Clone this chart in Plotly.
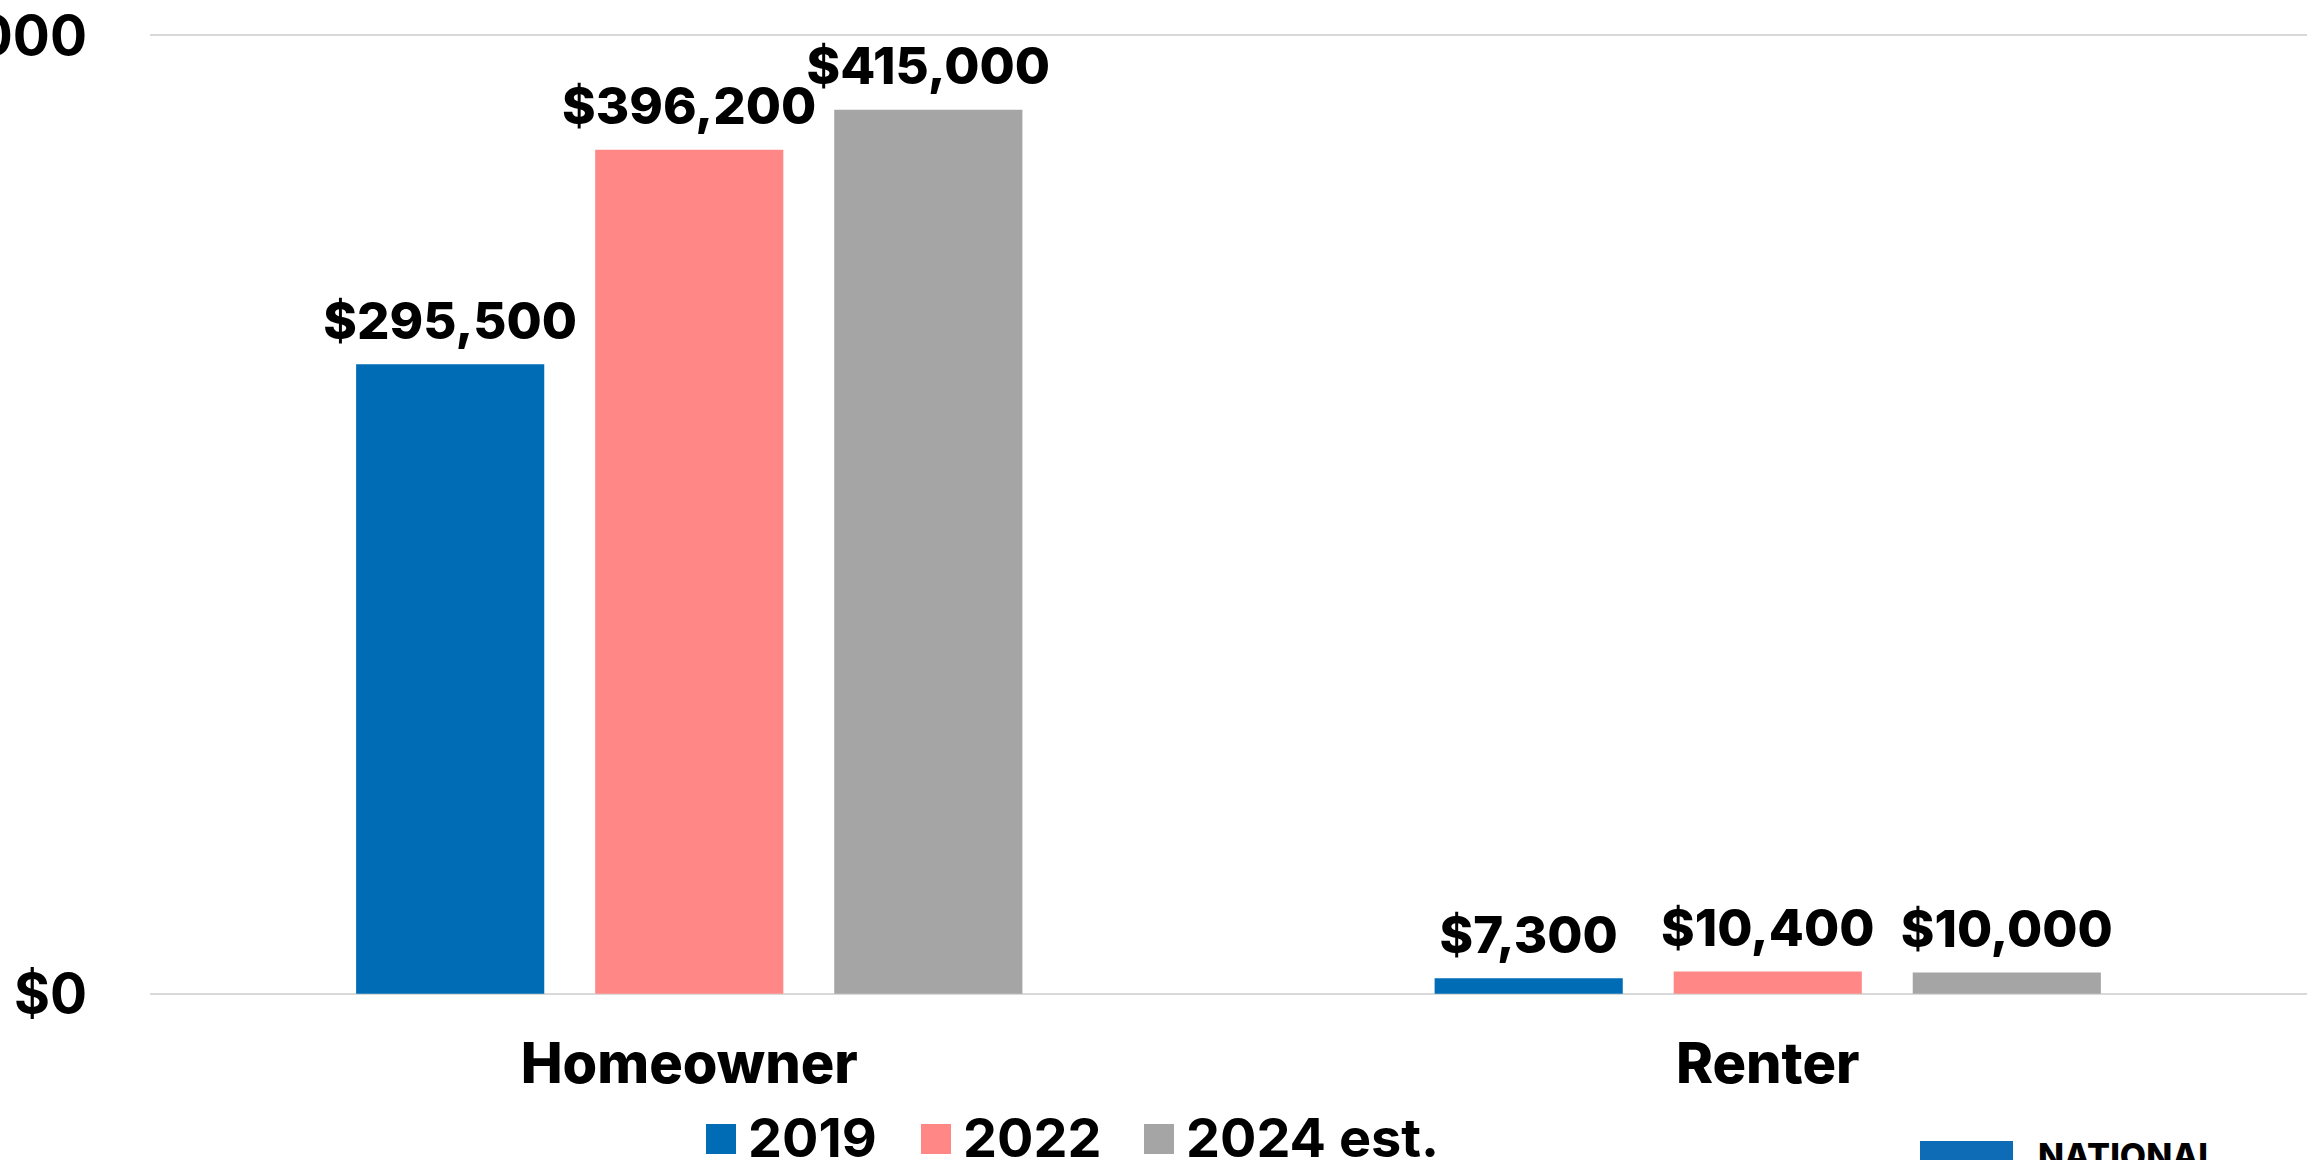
import plotly.graph_objects as go

categories = ["Homeowner", "Renter"]
series_names = ["2019", "2022", "2024 est."]
values_2019 = [295500, 7300]
values_2022 = [396200, 10400]
values_2024 = [415000, 10000]
series_values = [values_2019, values_2022, values_2024]
colors = ["#006CB5", "#FF8886", "#A5A5A5"]
y_tick_vals = [0, 450000]
y_tick_text = ["$0", "$450,000"]

FONT = "Inter"
W, H = 2323, 1160
L, R, T, B = 150, 16, 31, 162
PW, PH = W - L - R, H - T - B
Y_RANGE = [-2000, 452000]
BARGAP = 0.335


def px_x(x):
    return (x - L) / PW


def px_y(y):
    return (H - B - y) / PH


fig = go.Figure()
for name, vals, col in zip(series_names, series_values, colors):
    fig.add_trace(go.Bar(
        x=categories, y=vals, name=name, base=0,
        offsetgroup=name, alignmentgroup="g",
        marker=dict(color=col, line=dict(width=0)),
        showlegend=False, hoverinfo="skip",
    ))
# data labels, grouped like the bars
for name, vals in zip(series_names, series_values):
    fig.add_trace(go.Scatter(
        x=categories, y=vals, name=name,
        offsetgroup=name, alignmentgroup="g",
        mode="markers+text",
        marker=dict(size=19, color="rgba(0,0,0,0)"),
        text=[f"${v:,}" for v in vals],
        textposition="top center",
        textfont=dict(family=FONT, size=51, color="#000000", weight=800),
        cliponaxis=False, showlegend=False, hoverinfo="skip",
    ))

# legend (swatches + names)
legend_swatch_x = [706, 921, 1144]
for name, col, sx in zip(series_names, colors, legend_swatch_x):
    fig.add_shape(type="rect", xref="paper", yref="paper",
                  x0=px_x(sx), x1=px_x(sx + 30), y0=px_y(1154), y1=px_y(1124),
                  fillcolor=col, line=dict(width=0))
    fig.add_annotation(xref="paper", yref="paper", x=px_x(sx + 40), y=px_y(1137),
                       xanchor="left", yanchor="middle", showarrow=False,
                       text=name, font=dict(family=FONT, size=54, color="#000000", weight=700))

# logo fragment (bottom right, cropped)
fig.add_shape(type="rect", xref="paper", yref="paper",
              x0=px_x(1920), x1=px_x(2013), y0=px_y(1200), y1=px_y(1141),
              fillcolor="#0E6BB5", line=dict(width=0))
fig.add_annotation(xref="paper", yref="paper", x=px_x(2036), y=px_y(1133),
                   xanchor="left", yanchor="top", showarrow=False,
                   text="NATIONAL", font=dict(family=FONT, size=34, color="#000000", weight=800))

fig.update_layout(
    width=W, height=H,
    margin=dict(l=L, r=R, t=T, b=B, autoexpand=False),
    paper_bgcolor="#FFFFFF", plot_bgcolor="#FFFFFF",
    barmode="group", bargap=BARGAP, bargroupgap=0.213,
    scattermode="group", scattergap=BARGAP,
    font=dict(family=FONT, color="#000000"),
)
fig.update_xaxes(
    showline=False, showgrid=False, zeroline=False, ticks="",
    tickfont=dict(family=FONT, size=56, color="#000000", weight=800),
    ticklabelstandoff=28, automargin=False,
)
fig.update_yaxes(
    range=Y_RANGE, tickvals=y_tick_vals, ticktext=y_tick_text,
    showgrid=True, gridcolor="#D9D9D9", gridwidth=2, zeroline=False,
    showline=False, ticks="",
    tickfont=dict(family=FONT, size=55, color="#000000", weight=700),
    ticklabelstandoff=62, automargin=False,
)

fig.write_html("out.html", config={"displayModeBar": False},
               post_script="document.body.style.margin='0px';")
